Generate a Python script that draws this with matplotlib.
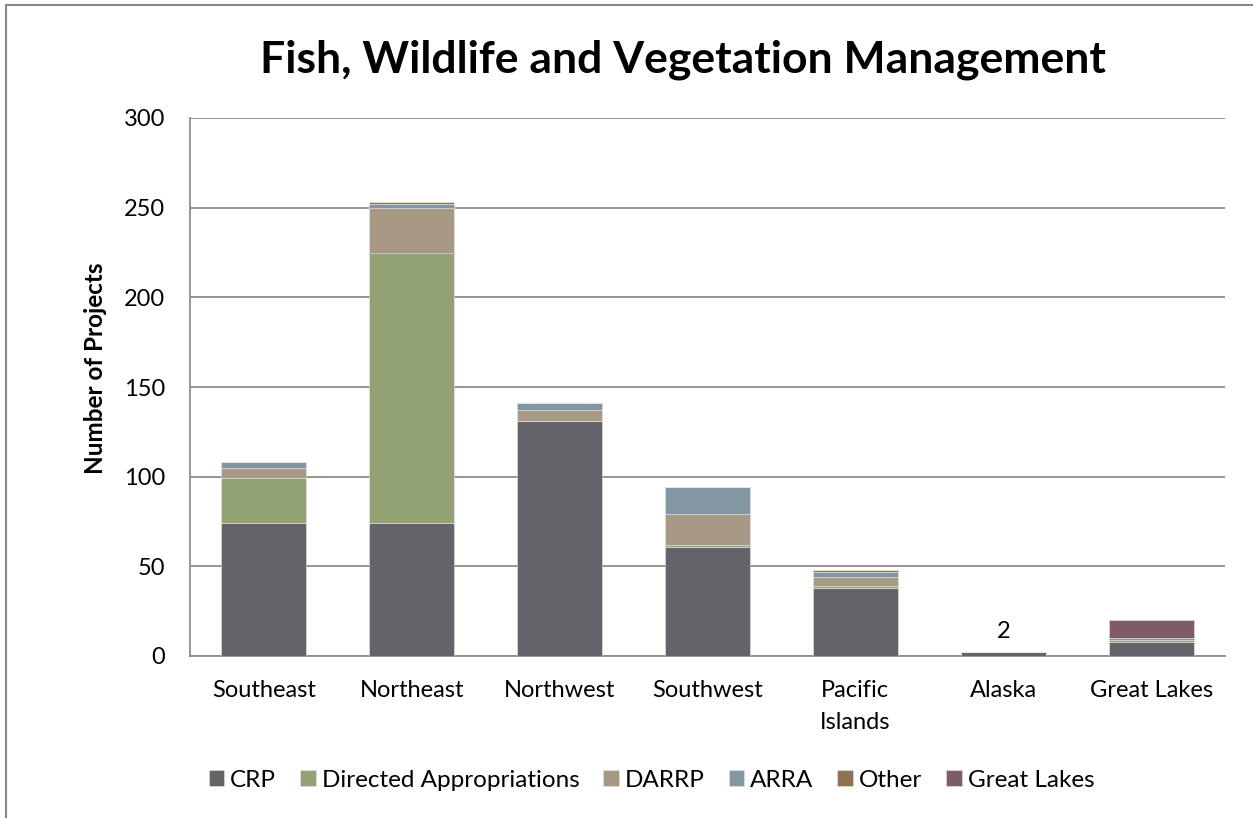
import matplotlib
matplotlib.use("Agg")
import matplotlib.pyplot as plt
from matplotlib.patches import Rectangle
import numpy as np

plt.rcParams['font.family'] = ['Lato', 'DejaVu Sans']

regions = ["Southeast", "Northeast", "Northwest", "Southwest", "Pacific\nIslands", "Alaska", "Great Lakes"]
crp = [74, 74, 131, 61, 38, 2, 8]
directed = [25, 151, 0, 1, 1, 0, 1]
darrp = [6, 25, 6, 17, 5, 0, 0]
arra = [3, 2, 4, 15, 3, 0, 1]
other = [0, 1, 0, 0, 1, 0, 0]
great_lakes = [0, 0, 0, 0, 0, 0, 10]
series_names = ["CRP", "Directed Appropriations", "DARRP", "ARRA", "Other", "Great Lakes"]
colors = ["#636369", "#93A275", "#A89985", "#8397A3", "#8C7352", "#7E5B67"]
yticks = [0, 50, 100, 150, 200, 250, 300]

fig = plt.figure(figsize=(12.53, 8.18), dpi=100)
ax = fig.add_axes([190/1253, (818-656)/818, (1225-190)/1253, (656-118)/818])

x = np.arange(len(regions))
bottom = np.zeros(len(regions))
for vals, name, c in zip([crp, directed, darrp, arra, other, great_lakes], series_names, colors):
    ax.bar(x, vals, 0.575, bottom=bottom, color=c, label=name, edgecolor='#e6e6e6', linewidth=0.4, zorder=3)
    bottom += np.array(vals)

ax.text(5, crp[5] + 6, "2", ha='center', va='bottom', fontsize=17)

ax.set_ylim(0, 300)
ax.set_xlim(-0.5, len(regions) - 0.5)
ax.set_yticks(yticks)
ax.set_xticks(x)
ax.set_xticklabels(regions, fontsize=17, linespacing=1.65)
ax.tick_params(axis='y', labelsize=17, length=0, pad=18)
ax.tick_params(axis='x', length=0, pad=17)
ax.grid(axis='y', color='#8c8c8c', linewidth=1.3, zorder=0)
for s in ['top', 'right']:
    ax.spines[s].set_visible(False)
ax.spines['left'].set_color('#8c8c8c')
ax.spines['left'].set_linewidth(1.3)
ax.spines['bottom'].set_color('#8c8c8c')
ax.spines['bottom'].set_linewidth(1.3)

ax.set_ylabel("Number of Projects", fontsize=17.5, fontweight='bold')
ax.yaxis.set_label_coords(-0.080, 0.535)
fig.text(0.545, 0.927, "Fish, Wildlife and Vegetation Management", ha='center', va='center',
         fontsize=32, fontweight='bold')

leg = fig.legend(loc='center', bbox_to_anchor=(0.52, 0.046), ncol=6, frameon=False, fontsize=17.5,
                 handlelength=0.64, handleheight=0.64, handletextpad=0.25, columnspacing=0.98)

fig.patches.append(Rectangle((6/1253, -0.01), 1.1, (818-5)/818 + 0.01, transform=fig.transFigure,
                             fill=False, edgecolor='#888888', linewidth=1.5, zorder=0))

fig.savefig("out.png", dpi=100)
